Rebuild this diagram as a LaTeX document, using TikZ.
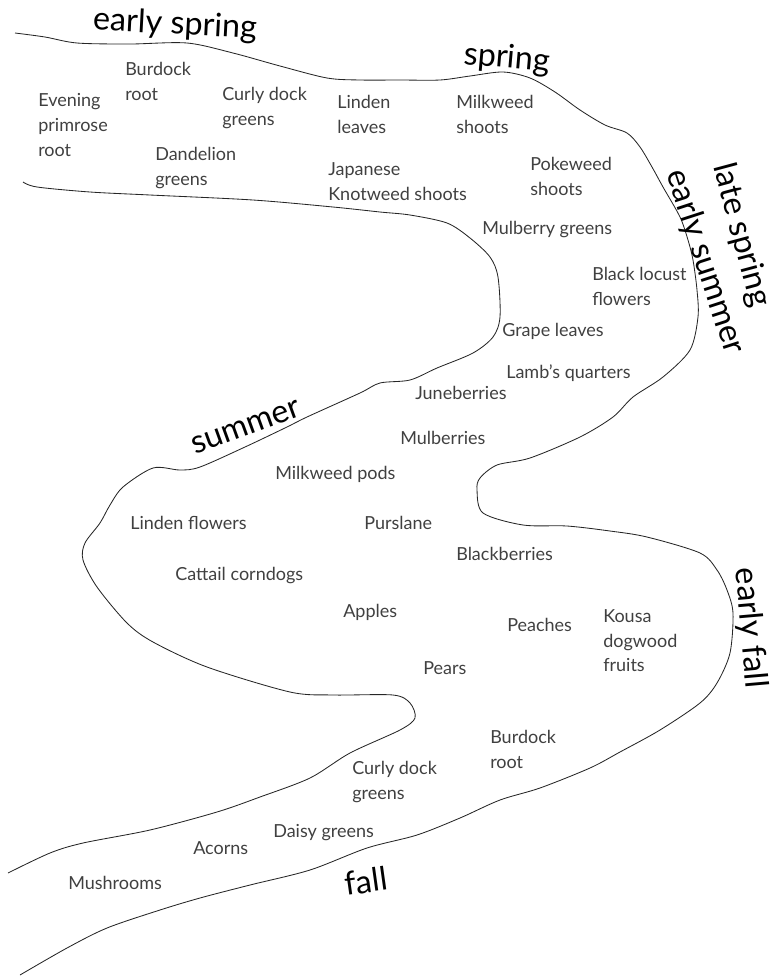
\documentclass[tikz,border=0pt]{standalone}
\usepackage{fontspec}
\setmainfont{Lato}
\begin{document}
\begin{tikzpicture}[
    x=0.025cm, y=-0.025cm,
    bank/.style={line width=0.6pt, black!85},
    season/.style={font=\fontsize{23}{26}\selectfont, text=black, inner sep=0pt},
    food/.style={font=\fontsize{12.8}{17.7}\selectfont, text=black!75, align=left, anchor=north west, inner sep=0pt}
]
\useasboundingbox (0,0) rectangle (774,976);

% horni a prava brehova linie
\draw[bank] plot[smooth] coordinates {
  (15,33) (45,37) (77,43) (130,44) (187,43) (233,53) (280,66) (327,78) (360,80)
  (400,80) (440,80) (470,76) (503,72) (530,78) (555,92) (580,110) (605,125)
  (627,133) (640,147) (652,167) (663,187) (680,217) (688,240) (693,260) (697,290)
  (698,317) (690,350) (663,377) (633,397) (613,417) (580,437) (530,458) (497,465)
  (480,478) (477,490) (483,513) (523,525) (567,526) (610,531) (647,537) (700,553)
  (717,570) (727,590) (733,613) (730,653) (717,683) (700,703) (660,730) (620,752)
  (590,768) (540,788) (500,800) (460,818) (417,835) (367,848) (310,870) (250,885)
  (200,898) (160,910) (107,928) (67,948) (20,975)};

% dolni a leva brehova linie
\draw[bank] plot[smooth] coordinates {
  (23,182) (37,187) (90,192) (150,195) (253,200) (333,207) (380,212) (410,215)
  (447,223) (470,238) (490,257) (498,277) (500,317) (493,337) (473,353) (437,368)
  (410,380) (380,383) (360,393) (307,417) (287,427) (245,447) (200,467) (180,470)
  (153,468) (123,487) (110,505) (100,523) (85,543) (83,560) (97,587) (127,623)
  (153,642) (207,667) (290,692) (333,695) (393,695) (410,703) (415,718) (400,730)
  (350,753) (310,778) (260,797) (217,812) (150,830) (83,843) (50,853) (8,873)};

% rocni obdobi
\node[season, rotate=-3] (earlyspring) at (175,25) {early spring};
\node[season, rotate=-5] (spring) at (507,59) {spring};
\node[season, rotate=-75] (latespring) at (741,235) {late spring};
\node[season, rotate=-72] (earlysummer) at (705,262) {early summer};
\node[season, rotate=20] (summer) at (246,427) {summer};
\node[season, rotate=-85] (earlyfall) at (750,628) {early fall};
\node[season, rotate=8] (fall) at (366,881) {fall};

% jaro
\node[food] (primrose) at (38,93) {Evening\\primrose\\root};
\node[food] (burdockA) at (125,62) {Burdock\\root};
\node[food] (curlyA) at (222,87) {Curly dock\\greens};
\node[food] (lindenleaves) at (337,95) {Linden\\leaves};
\node[food] (milkshoots) at (456,95) {Milkweed\\shoots};
\node[food] (dandelion) at (155,147) {Dandelion\\greens};
\node[food] (knotweed) at (328,162) {Japanese\\Knotweed shoots};
\node[food] (pokeweed) at (530,157) {Pokeweed\\shoots};
\node[food] (mulgreens) at (482,221) {Mulberry greens};
\node[food] (locust) at (592,267) {Black locust\\flowers};
\node[food] (grape) at (502,323) {Grape leaves};
\node[food] (lambs) at (506,364) {Lamb's quarters};

% leto
\node[food] (juneberries) at (415,386) {Juneberries};
\node[food] (mulberries) at (400,431) {Mulberries};
\node[food] (milkpods) at (275,466) {Milkweed pods};
\node[food] (lindenflowers) at (130,516) {Linden flowers};
\node[food] (purslane) at (364,516) {Purslane};
\node[food] (blackberries) at (456,547) {Blackberries};
\node[food] (cattail) at (175,567) {Cattail corndogs};
\node[food] (apples) at (343,604) {Apples};
\node[food] (peaches) at (507,618) {Peaches};
\node[food] (kousa) at (603,609) {Kousa\\dogwood\\fruits};
\node[food] (pears) at (423,661) {Pears};

% podzim
\node[food] (burdockB) at (490,730) {Burdock\\root};
\node[food] (curlyB) at (352,761) {Curly dock\\greens};
\node[food] (daisy) at (273,824) {Daisy greens};
\node[food] (acorns) at (193,841) {Acorns};
\node[food] (mushrooms) at (68,876) {Mushrooms};

\end{tikzpicture}
\end{document}
